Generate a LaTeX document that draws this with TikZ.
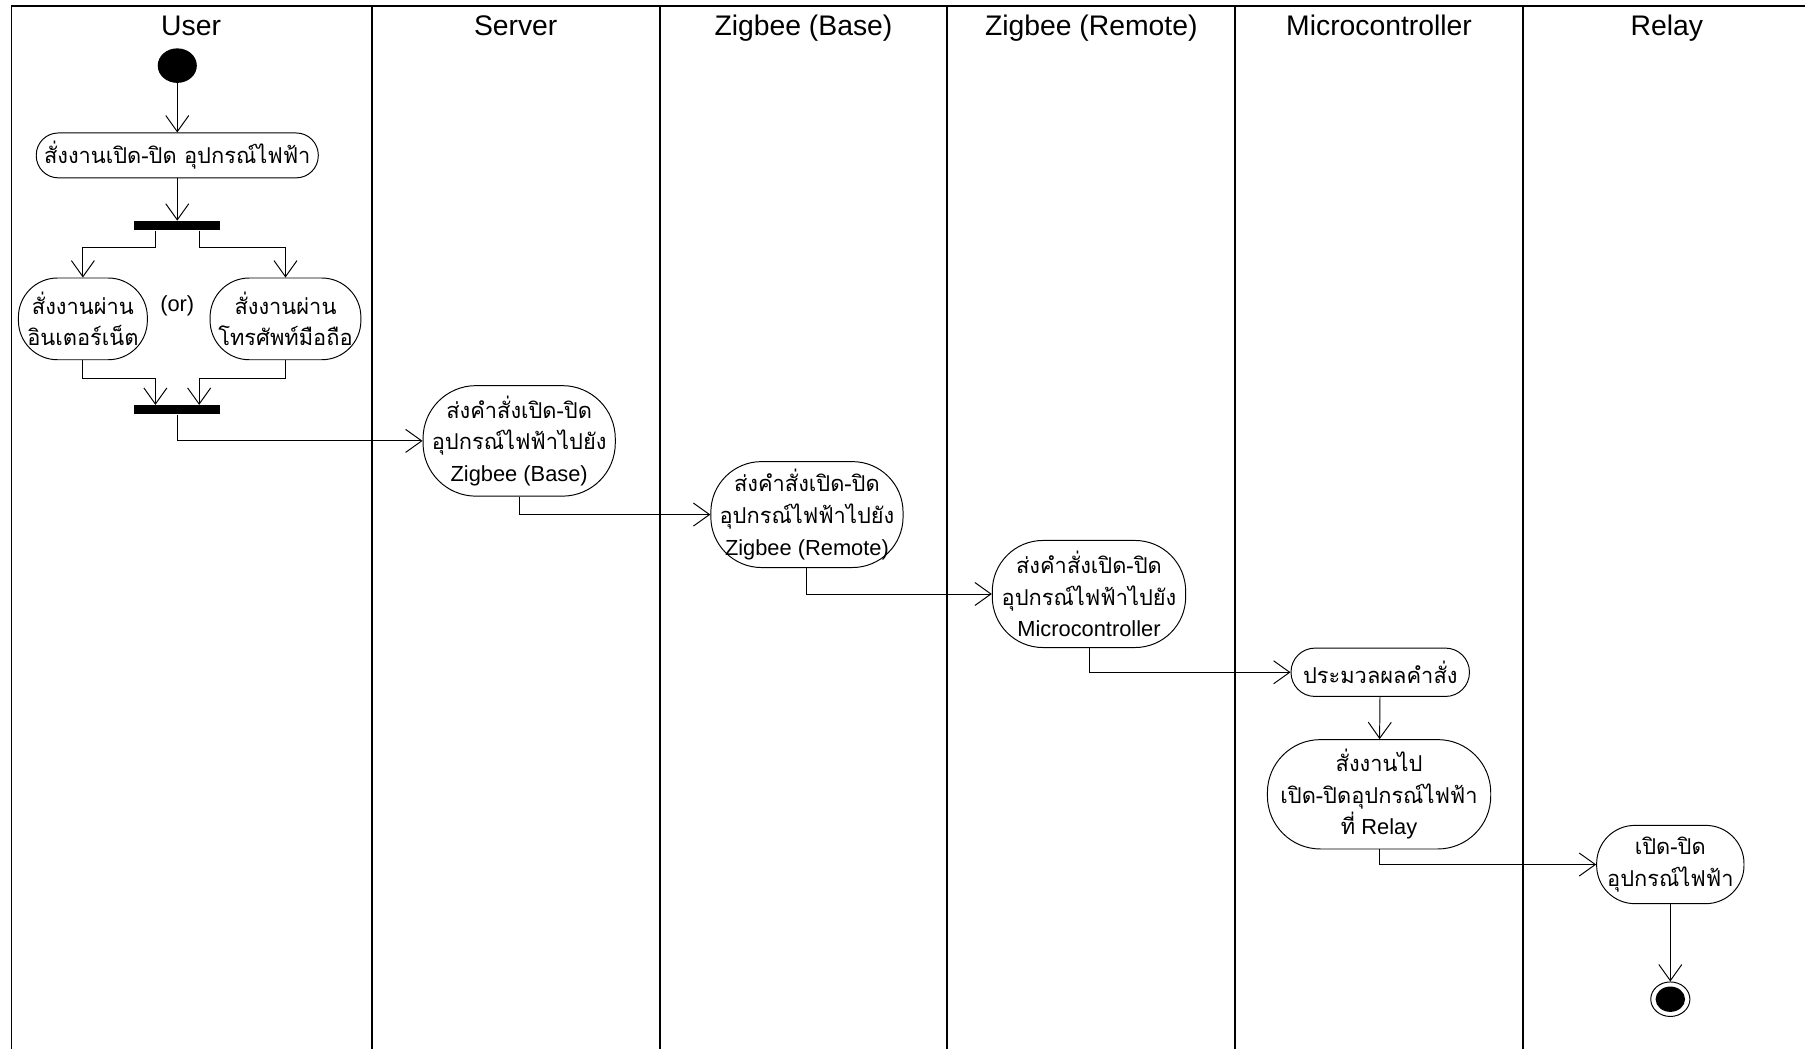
\documentclass[tikz,border=0pt]{standalone}
\usepackage{fontspec}
\setmainfont{Liberation Sans}
\newfontfamily\thaifont[Script=Thai]{Loma}
\usetikzlibrary{arrows.meta,shapes.geometric,positioning}

\newcommand{\thaitxt}[1]{{\thaifont #1}}

\tikzset{
  lane/.style={line width=1.2pt},
  flow/.style={line width=0.6pt,-{Straight Barb[length=3.5mm,width=5mm]}},
  act/.style={draw,line width=0.6pt,align=center,inner sep=0pt,font=\fontsize{13.5}{19.5}\selectfont},
  bar/.style={fill=black,minimum width=18.75mm,minimum height=2mm,inner sep=0pt},
  lanetitle/.style={anchor=base,font=\fontsize{17.5}{20}\selectfont}
}

\begin{document}
\begin{tikzpicture}[x=0.25mm,y=-0.25mm]
\useasboundingbox (0,0) rectangle (1568,911);

% swimlanes
\draw[lane] (1568,5) -- (10,5) -- (10,911);
\foreach \x in {323,573,823,1073,1323} {
\draw[lane] (\x,5) -- (\x,911);
}
\foreach \x/\name [count=\i] in {166/User,448/Server,698/Zigbee (Base),948/Zigbee (Remote),1198/Microcontroller,1448/Relay} {
\node[lanetitle] (h\i) at (\x,31) {\name};
}

% user
\node (start) at (154,57) [ellipse,fill=black,minimum width=8.5mm,minimum height=7.5mm,inner sep=0pt] {};
\node (act1) at (154,135) [act,rounded corners=4.8mm,minimum width=61.25mm,minimum height=9.75mm] {\thaitxt{สั่งงานเปิด-ปิด อุปกรณ์ไฟฟ้า}};
\node (fork1) at (154,196) [bar] {};
\node (web) at (72,277) [act,rounded corners=8.5mm,minimum width=28mm,minimum height=17.75mm] {\thaitxt{สั่งงานผ่าน}\\\thaitxt{อินเตอร์เน็ต}};
\node (or) at (154,266) [font=\fontsize{13.5}{16}\selectfont] {(or)};
\node (mob) at (248,277) [act,rounded corners=8.5mm,minimum width=32.75mm,minimum height=17.75mm] {\thaitxt{สั่งงานผ่าน}\\\thaitxt{โทรศัพท์มือถือ}};
\node (join) at (154,356) [bar] {};

% server, zigbee
\node (srv) at (451,383) [act,rounded corners=11.5mm,minimum width=41.75mm,minimum height=24mm] {\thaitxt{ส่งคำสั่งเปิด-ปิด}\\\thaitxt{อุปกรณ์ไฟฟ้าไปยัง}\\Zigbee (Base)};
\node (zb) at (701,447) [act,rounded corners=11mm,minimum width=41.75mm,minimum height=23mm] {\thaitxt{ส่งคำสั่งเปิด-ปิด}\\\thaitxt{อุปกรณ์ไฟฟ้าไปยัง}\\Zigbee (Remote)};
\node (zr) at (946,516) [act,rounded corners=11mm,minimum width=42mm,minimum height=23.25mm] {\thaitxt{ส่งคำสั่งเปิด-ปิด}\\\thaitxt{อุปกรณ์ไฟฟ้าไปยัง}\\Microcontroller};

% microcontroller, relay
\node (proc) at (1199,584) [act,rounded corners=5.2mm,minimum width=38.75mm,minimum height=10.5mm] {\thaitxt{ประมวลผลคำสั่ง}};
\node (relcmd) at (1198,690) [act,rounded corners=11.5mm,minimum width=48.5mm,minimum height=23.75mm] {\thaitxt{สั่งงานไป}\\\thaitxt{เปิด-ปิดอุปกรณ์ไฟฟ้า}\\\thaitxt{ที่} Relay};
\node (relay) at (1451,751) [act,rounded corners=8.3mm,minimum width=32mm,minimum height=17mm] {\thaitxt{เปิด-ปิด}\\\thaitxt{อุปกรณ์ไฟฟ้า}};
\node (end) at (1451,868) [ellipse,draw,line width=0.6pt,minimum width=8.5mm,minimum height=7.5mm,inner sep=0pt] {};
\fill (end.center) ellipse (3.2mm and 2.75mm);

\draw[flow] (start) -- (act1);
\draw[flow] (act1) -- (fork1);
\draw[flow] ([xshift=-4.75mm]fork1.south) -- ++(0,15) -| (web.north);
\draw[flow] ([xshift=4.75mm]fork1.south) -- ++(0,15) -| (mob.north);
\draw[flow] (web.south) -- ++(0,16) -| ([xshift=-4.75mm]join.north);
\draw[flow] (mob.south) -- ++(0,16) -| ([xshift=4.75mm]join.north);
\draw[flow] (join.south) |- (srv.west);
\draw[flow] (srv.south) |- (zb.west);
\draw[flow] (zb.south) |- (zr.west);
\draw[flow] (zr.south) |- (proc.west);
\draw[flow] (proc) -- (relcmd);
\draw[flow] (relcmd.south) |- (relay.west);
\draw[flow] (relay) -- (end);
\end{tikzpicture}
\end{document}
